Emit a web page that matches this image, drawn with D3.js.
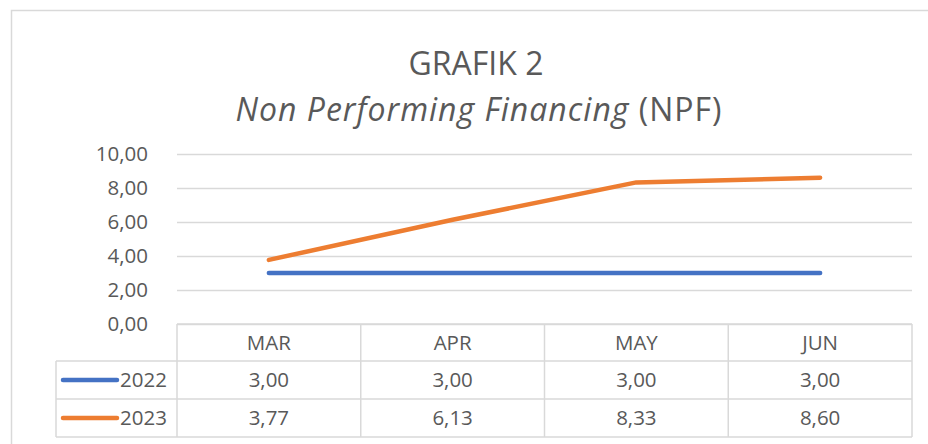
<!DOCTYPE html>
<html><head><meta charset="utf-8">
<script src="https://cdn.jsdelivr.net/npm/d3@7"></script>
<style>
html,body{margin:0;padding:0;background:#fff;}
svg{display:block;font-family:"Open Sans",sans-serif;}
</style></head>
<body>
<svg id="chart" width="928" height="444"></svg>
<script>
const categories = ["MAR", "APR", "MAY", "JUN"];
const series2022 = [3.00, 3.00, 3.00, 3.00];
const series2023 = [3.77, 6.13, 8.33, 8.60];
const seriesNames = ["2022", "2023"];
const yTicks = [0, 2, 4, 6, 8, 10];
const colors = ["#4472C4", "#ED7D31"];

const svg = d3.select("#chart");
const W = 928, H = 444;
const plot = {left: 177, right: 912, top: 154, bottom: 324};
const textColor = "#595959", gridColor = "#d9d9d9";
const fmt = v => d3.format(".2f")(v).replace(".", ",");
const fs = 20.5;

// frame
svg.append("path").attr("d", `M11.5,${H+5} L11.5,10.5 L${W+5},10.5`)
  .attr("fill", "none").attr("stroke", gridColor).attr("stroke-width", 1.5);

// title
svg.append("text").attr("x", 476).attr("y", 75).attr("text-anchor", "middle")
  .attr("fill", textColor).attr("font-size", 32).text("GRAFIK 2");
const t2 = svg.append("text").attr("x", 479).attr("y", 121).attr("text-anchor", "middle")
  .attr("fill", textColor).attr("font-size", 32).attr("letter-spacing", 1);
t2.append("tspan").attr("font-style", "italic").text("Non Performing Financing");
t2.append("tspan").text(" (NPF)");

const x = d3.scaleBand().domain(categories).range([plot.left, plot.right]);
const y = d3.scaleLinear().domain([0, 10]).range([plot.bottom, plot.top]);

// gridlines
const yAxis = d3.axisLeft(y).tickValues(yTicks).tickSize(-(plot.right - plot.left)).tickFormat(fmt).tickPadding(29);
const ga = svg.append("g").attr("transform", `translate(${plot.left},0)`).call(yAxis);
ga.select(".domain").remove();
ga.selectAll(".tick line").attr("stroke", gridColor).attr("stroke-width", 1.5);
ga.selectAll(".tick text").attr("fill", textColor).attr("font-size", fs)
  .attr("font-family", "'Open Sans',sans-serif");

// lines
const data = [series2022, series2023];
const line = d3.line().x((d, i) => x(categories[i]) + x.bandwidth() / 2).y(d => y(d));
svg.append("g").selectAll("path").data(data).join("path")
  .attr("d", line).attr("fill", "none")
  .attr("stroke", (d, i) => colors[i]).attr("stroke-width", 4.5)
  .attr("stroke-linecap", "round").attr("stroke-linejoin", "round");

// data table
const tableTop = plot.bottom, rowH = [37, 38, 38];
const legendLeft = 56;
const rowY = [tableTop, tableTop + rowH[0], tableTop + rowH[0] + rowH[1], tableTop + rowH[0] + rowH[1] + rowH[2]];
const tg = svg.append("g").attr("stroke", gridColor).attr("stroke-width", 1.5).attr("fill", "none");
tg.append("line").attr("x1", plot.left).attr("x2", plot.right).attr("y1", rowY[0]).attr("y2", rowY[0]);
[1, 2, 3].forEach(k => tg.append("line").attr("x1", legendLeft).attr("x2", plot.right).attr("y1", rowY[k]).attr("y2", rowY[k]));
tg.append("line").attr("x1", legendLeft).attr("x2", legendLeft).attr("y1", rowY[1]).attr("y2", rowY[3]);
categories.forEach(c => tg.append("line").attr("x1", x(c)).attr("x2", x(c)).attr("y1", rowY[0]).attr("y2", rowY[3]));
tg.append("line").attr("x1", plot.right).attr("x2", plot.right).attr("y1", rowY[0]).attr("y2", rowY[3]);

const tt = svg.append("g").attr("fill", textColor).attr("font-size", fs).attr("text-anchor", "middle");
categories.forEach(c => tt.append("text").attr("x", x(c) + x.bandwidth() / 2)
  .attr("y", (rowY[0] + rowY[1]) / 2).attr("dy", "0.35em").text(c));
data.forEach((s, r) => {
  const cy = (rowY[r + 1] + rowY[r + 2]) / 2;
  s.forEach((v, i) => tt.append("text").attr("x", x(categories[i]) + x.bandwidth() / 2)
    .attr("y", cy).attr("dy", "0.35em").text(fmt(v)));
  svg.append("line").attr("x1", 63).attr("x2", 117).attr("y1", cy).attr("y2", cy)
    .attr("stroke", colors[r]).attr("stroke-width", 4.5).attr("stroke-linecap", "round");
  svg.append("text").attr("x", 120).attr("y", cy).attr("dy", "0.35em").attr("fill", textColor)
    .attr("font-size", fs).text(seriesNames[r]);
});
</script>
</body></html>
